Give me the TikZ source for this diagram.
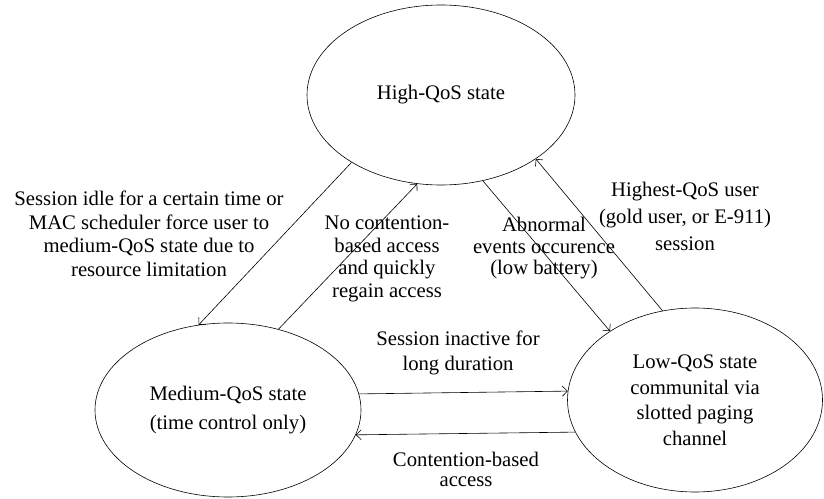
\documentclass[tikz,border=0pt]{standalone}
\usepackage{fontspec}
\setmainfont{Liberation Serif}
\usetikzlibrary{shapes.geometric,arrows.meta}
\newcommand\myfs[1]{\fontsize{20.7}{#1}\selectfont}
\begin{document}
\begin{tikzpicture}[x=1pt,y=1pt,
  state/.style={draw, ellipse, line width=0.6pt, inner sep=0pt, align=center},
  lbl/.style={align=center, inner sep=0pt},
  arr/.style={line width=0.6pt, -{Straight Barb[length=5pt,width=10pt]}}]
\fill[white] (0,0) rectangle (824,498);
\useasboundingbox (0,0) rectangle (824,498);
\node[state, minimum width=268, minimum height=180, font=\myfs{26}] (high) at (441,403) {High-QoS state};
\node[state, minimum width=266, minimum height=174, font=\myfs{29}] (med) at (228,88) {Medium-QoS state\\(time control only)};
\node[state, minimum width=255, minimum height=184, font=\myfs{25.5}] (low) at (695,98) {Low-QoS state\\communital via\\slotted paging\\channel};
\node[lbl, font=\myfs{23.5}] (l1) at (149,264) {Session idle for a certain time or\\MAC scheduler force user to\\medium-QoS state due to\\resource limitation};
\node[lbl, font=\myfs{22.7}] (l2) at (387,239) {No contention-\\based access\\and quickly\\regain access};
\node[lbl, font=\myfs{21.5}] (l3) at (544,249.5) {Abnormal\\events occurence\\(low battery)};
\node[lbl, font=\myfs{27}] (l4) at (685,282) {Highest-QoS user\\(gold user, or E-911)\\session};
\node[lbl, font=\myfs{25}] (l5) at (458,145) {Session inactive for\\long duration};
\node[lbl, font=\myfs{20}] (l6) at (466,29) {Contention-based\\access};
\draw[arr] (high.217) -- (med.109.8);
\draw[arr] (med.58.8) -- (high.255.7);
\draw[arr] (high.296.8) -- (low.141.3);
\draw[arr] (low.110.3) -- (high.326.7);
\draw[arr] (med.7.4) -- (low.176.8);
\draw[arr] (low.195.5) -- (med.349.8);
\end{tikzpicture}
\end{document}
